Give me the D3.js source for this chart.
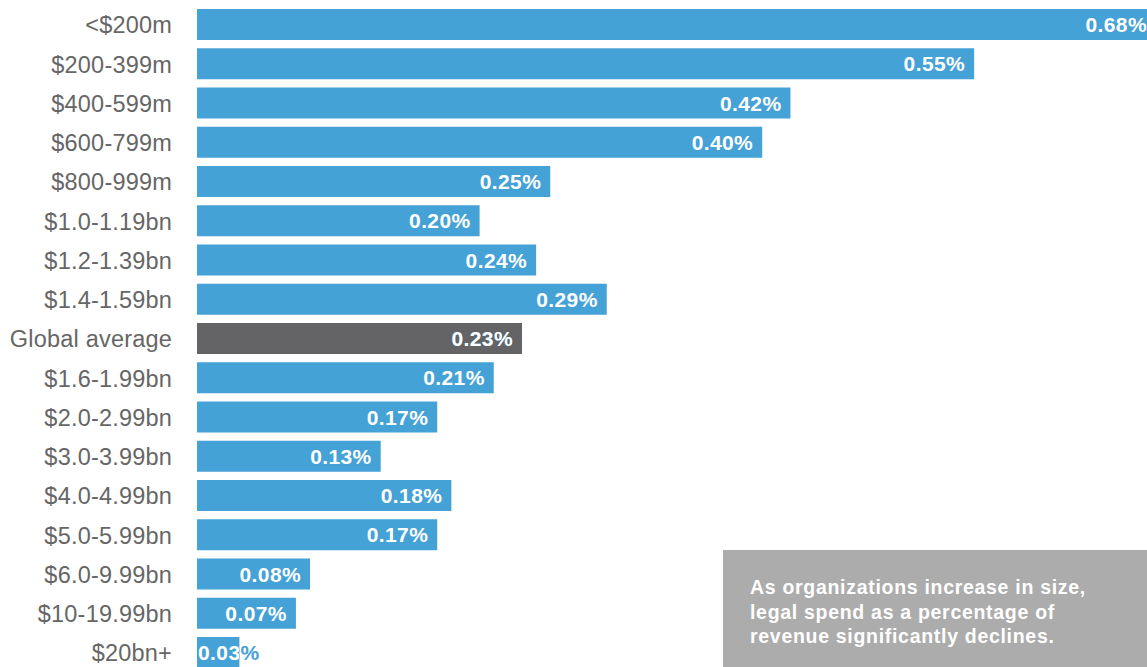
<!DOCTYPE html>
<html>
<head>
<meta charset="utf-8">
<script src="https://cdn.jsdelivr.net/npm/d3@7"></script>
<style>
  body { margin: 0; background: #fff; }
  svg { display: block; font-family: "Liberation Sans", Arial, Helvetica, sans-serif; }
</style>
</head>
<body>
<svg id="chart" width="1147" height="667"></svg>
<script>
// revenue bands and legal spend as % of revenue
const bands = ["<$200m", "$200-399m", "$400-599m", "$600-799m", "$800-999m",
  "$1.0-1.19bn", "$1.2-1.39bn", "$1.4-1.59bn", "Global average", "$1.6-1.99bn",
  "$2.0-2.99bn", "$3.0-3.99bn", "$4.0-4.99bn", "$5.0-5.99bn", "$6.0-9.99bn",
  "$10-19.99bn", "$20bn+"]
const spend = [0.68, 0.55, 0.42, 0.40, 0.25, 0.20, 0.24, 0.29, 0.23, 0.21,
  0.17, 0.13, 0.18, 0.17, 0.08, 0.07, 0.03]
const highlight = "Global average"
const note = ["As organizations increase in size,",
  "legal spend as a percentage of",
  "revenue significantly declines."]

const data = bands.map((b, i) => ({ band: b, value: spend[i] }))

const svg = d3.select("#chart")
const blue = "#45a2d6", grey = "#646466"

let x = d3.scaleLinear()
  .domain([0, 0.68])
  .range([197, 197 + 0.68 * 1413])

let y = d3.scaleBand()
  .domain(bands)
  .range([9, 668])
  .paddingInner(0.21)
  .paddingOuter(0)

// category labels
svg.selectAll(".cat")
  .data(data)
  .enter().append("text")
  .attr("class", "cat")
  .attr("x", 172)
  .attr("y", d => y(d.band) + y.bandwidth() / 2)
  .attr("dy", "0.38em")
  .attr("text-anchor", "end")
  .attr("fill", "#666")
  .style("font-size", "23.5px")
  .style("letter-spacing", "0.2px")
  .text(d => d.band)

const defs = svg.append("defs")
defs.selectAll("clipPath")
  .data(data)
  .enter().append("clipPath")
  .attr("id", (d, i) => "clip" + i)
  .append("rect")
  .attr("x", x(0))
  .attr("y", d => y(d.band))
  .attr("width", d => x(d.value) - x(0))
  .attr("height", y.bandwidth())

svg.selectAll(".bar")
  .data(data)
  .enter().append("rect")
  .attr("class", "bar")
  .attr("x", x(0))
  .attr("y", d => y(d.band))
  .attr("width", d => x(d.value) - x(0))
  .attr("height", y.bandwidth())
  .attr("fill", d => d.band == highlight ? grey : blue)

// value labels: right-aligned inside the bar, or from the bar start when it is too short
function labelPos(d) {
  let w = x(d.value) - x(0)
  return w < 70 ? { x: x(0) + 1, anchor: "start" } : { x: Math.min(x(d.value), 1156) - 9, anchor: "end" }
}

function addLabels(cls, colour, clipped) {
  svg.selectAll("." + cls)
    .data(data)
    .enter().append("text")
    .attr("class", cls)
    .attr("x", d => labelPos(d).x)
    .attr("y", d => y(d.band) + y.bandwidth() / 2)
    .attr("dy", "0.36em")
    .attr("text-anchor", d => labelPos(d).anchor)
    .attr("clip-path", (d, i) => clipped ? "url(#clip" + i + ")" : null)
    .attr("fill", colour)
    .style("font-size", "21px")
    .style("letter-spacing", "0.4px")
    .style("font-weight", "bold")
    .text(d => d.value.toFixed(2) + "%")
}
addLabels("val-out", blue, false)
addLabels("val-in", "#fff", true)

// note box
svg.append("rect")
  .attr("x", 723)
  .attr("y", 550)
  .attr("width", 1147 - 723)
  .attr("height", 117)
  .attr("fill", "#acacac")

svg.selectAll(".note")
  .data(note)
  .enter().append("text")
  .attr("class", "note")
  .attr("x", 750)
  .attr("y", (d, i) => 594 + i * 24.5)
  .attr("fill", "#fff")
  .style("font-size", "19.5px")
  .style("letter-spacing", "0.7px")
  .style("font-weight", "bold")
  .text(d => d)
</script>
</body>
</html>
